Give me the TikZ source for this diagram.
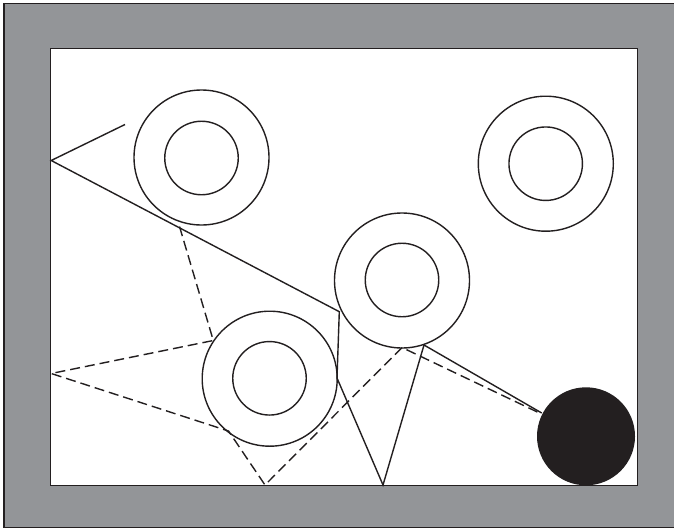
\documentclass[tikz,border=0pt]{standalone}
\usetikzlibrary{calc}
\definecolor{framegray}{HTML}{939598}
\definecolor{inkblack}{HTML}{231F20}
\begin{document}
\begin{tikzpicture}[x=1pt,y=-1pt,
  ring/.style={circle,draw=inkblack,line width=1.4pt,minimum size=135pt,inner sep=0pt},
  core/.style={circle,draw=inkblack,line width=1.4pt,minimum size=73.5pt,inner sep=0pt},
  ball/.style={circle,fill=inkblack,draw=none,minimum size=98pt,inner sep=0pt},
  solidline/.style={draw=inkblack,line width=1.4pt,line join=miter},
  dashline/.style={draw=inkblack,line width=1.4pt,dash pattern=on 10pt off 5pt}]
\useasboundingbox (0,0) rectangle (674,530);
% frame
\fill[framegray] (4,3.5) rectangle (680,527.5);
\draw[inkblack,line width=1.3pt] (680,3.5) -- (4,3.5) -- (4,527.5) -- (680,527.5);
\filldraw[fill=white,draw=inkblack,line width=1.6pt] (50.5,48.5) rectangle (637.5,485.5);
% rings
\node[ring] (r1) at (201.5,157.5) {};
\node[core] (c1) at (201.5,158) {};
\node[ring] (r2) at (402,280.5) {};
\node[core] (c2) at (402,280) {};
\node[ring] (r3) at (269.7,378.7) {};
\node[core] (c3) at (269.5,378.3) {};
\node[ring] (r4) at (545.8,163.7) {};
\node[core] (c4) at (545.7,163.7) {};
\node[ball] (b) at (586,436.3) {};
% vertices
\coordinate (L1) at (51.2,160.5);
\coordinate (T1) at (125,124.5);
\coordinate (A) at (339.3,311.7);
\coordinate (B) at (337,378);
\coordinate (Cb) at (383,485);
\coordinate (D) at (424,345);
\coordinate (E) at (541.7,413);
\coordinate (P) at (179.5,226.5);
\coordinate (Q) at (213.3,340.5);
\coordinate (L2) at (51.2,373.5);
\coordinate (R) at (228.5,431);
\coordinate (S) at (265,485);
\coordinate (U) at (402,347.5);
\coordinate (V) at (541.5,414);
% solid connectors
\path[solidline] (T1) -- (L1) -- (A) -- (B) -- (Cb) -- (D) -- (E);
% dashed connectors
\path[dashline] (P) -- (Q) -- (L2) -- (R) -- (S) -- (U) -- (V);
\end{tikzpicture}
\end{document}
